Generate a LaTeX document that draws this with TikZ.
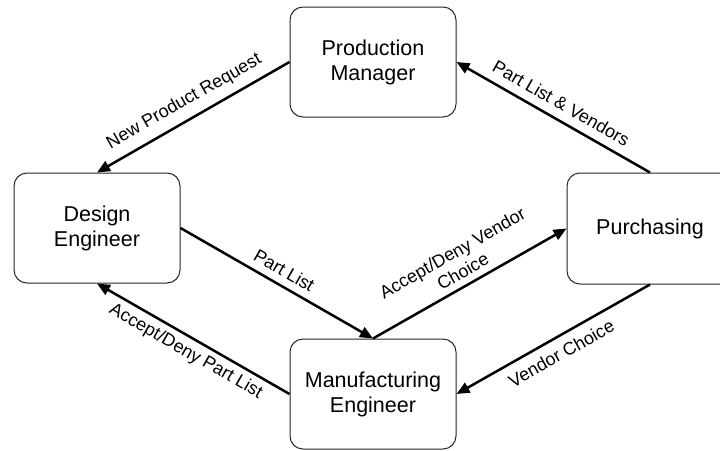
\documentclass[tikz,border=0pt]{standalone}
\usepackage{fontspec}
\setmainfont{Liberation Sans}
\usetikzlibrary{arrows.meta}
\begin{document}
\begin{tikzpicture}[x=1pt,y=-1pt,
  box/.style={draw=black!85, line width=1pt, rounded corners=13pt, fill=white,
    minimum width=166pt, minimum height=110pt, align=center, inner sep=0pt,
    font=\fontsize{21.5}{25}\selectfont},
  flow/.style={line width=2.5pt, -{Triangle[length=13pt,width=11pt]}},
  lbl/.style={font=\fontsize{18}{21}\selectfont, sloped, align=center, midway}]
\useasboundingbox (0,0) rectangle (720,450);
\clip (0,0) rectangle (720,450);
\fill[white] (0,0) rectangle (720,450);
\node[box] (pm) at (373,62) {Production\\Manager};
\node[box] (de) at (97,228) {Design\\Engineer};
\node[box, minimum height=111pt] (pu) at (650,228.5) {Purchasing};
\node[box] (mf) at (373,394) {Manufacturing\\Engineer};
\draw[flow] (pm.west) -- node[lbl, above=5pt] {New Product Request} (de.north);
\draw[flow] (pu.north) -- node[lbl, above=5pt] {Part List \& Vendors} (pm.east);
\draw[flow] (de.east) -- node[lbl, above=4pt] {Part List} (mf.north);
\draw[flow] (mf.north) -- node[lbl, above=3pt] {Accept/Deny Vendor\\Choice} (pu.west);
\draw[flow] (mf.west) -- node[lbl, below=2pt] {Accept/Deny Part List} (de.south);
\draw[flow] (pu.south) -- node[lbl, below=5pt] {Vendor Choice} (mf.east);
\end{tikzpicture}
\end{document}
